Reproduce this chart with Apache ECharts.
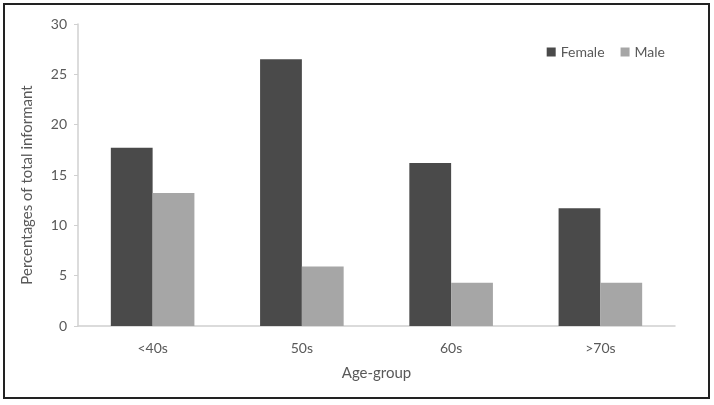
<!DOCTYPE html>
<html>
<head>
<meta charset="utf-8">
<script src="https://cdn.jsdelivr.net/npm/echarts@6/dist/echarts.min.js"></script>
<style>
  html, body { margin: 0; padding: 0; background: #fff; }
  #chart { width: 714px; height: 405px; }
</style>
</head>
<body>
<div id="chart"></div>
<script>
var ageGroups = ['<40s', '50s', '60s', '>70s'];
var female = [17.7, 26.5, 16.2, 11.7];
var male = [13.2, 5.9, 4.3, 4.3];
var yTicks = [0, 5, 10, 15, 20, 25, 30];

var chart = echarts.init(document.getElementById('chart'));
var txt = '#595959';
var font = 'Lato, "Open Sans", sans-serif';

option = {
  animation: false,
  textStyle: { fontFamily: font },
  graphic: [{
    type: 'rect',
    shape: { x: 4, y: 4, width: 705, height: 394 },
    style: { fill: 'none', stroke: '#222', lineWidth: 2 }
  }],
  legend: {
    right: 44,
    top: 40,
    itemWidth: 9,
    itemHeight: 9,
    itemGap: 16,
    icon: 'rect',
    textStyle: { color: txt, fontSize: 14, fontFamily: font },
    data: ['Female', 'Male']
  },
  grid: { left: 78, right: 39, top: 24, bottom: 79 },
  xAxis: {
    type: 'category',
    data: ageGroups,
    name: 'Age-group',
    nameLocation: 'middle',
    nameGap: 40,
    nameTextStyle: { color: txt, fontSize: 15, fontFamily: font },
    axisLine: { lineStyle: { color: '#d0d0d0', width: 1.5 } },
    axisTick: { show: false },
    axisLabel: { color: txt, fontSize: 14, margin: 15, fontFamily: font }
  },
  yAxis: {
    type: 'value',
    min: yTicks[0],
    max: yTicks[yTicks.length - 1],
    interval: 5,
    name: 'Percentages of total informant',
    nameLocation: 'middle',
    nameGap: 43,
    nameTextStyle: { color: txt, fontSize: 15, fontFamily: font, padding: [0, 0, 0, -20] },
    axisLine: { show: true, lineStyle: { color: '#d0d0d0', width: 1.5 } },
    axisTick: { show: true, length: 4, lineStyle: { color: '#d0d0d0' } },
    splitLine: { show: false },
    axisLabel: { color: txt, fontSize: 14, margin: 11, fontFamily: font }
  },
  series: [
    {
      name: 'Female',
      type: 'bar',
      data: female,
      barGap: '0%',
      barCategoryGap: '44%',
      itemStyle: { color: '#4a4a4a' }
    },
    {
      name: 'Male',
      type: 'bar',
      data: male,
      itemStyle: { color: '#a6a6a6' }
    }
  ]
};

chart.setOption(option);
</script>
</body>
</html>
